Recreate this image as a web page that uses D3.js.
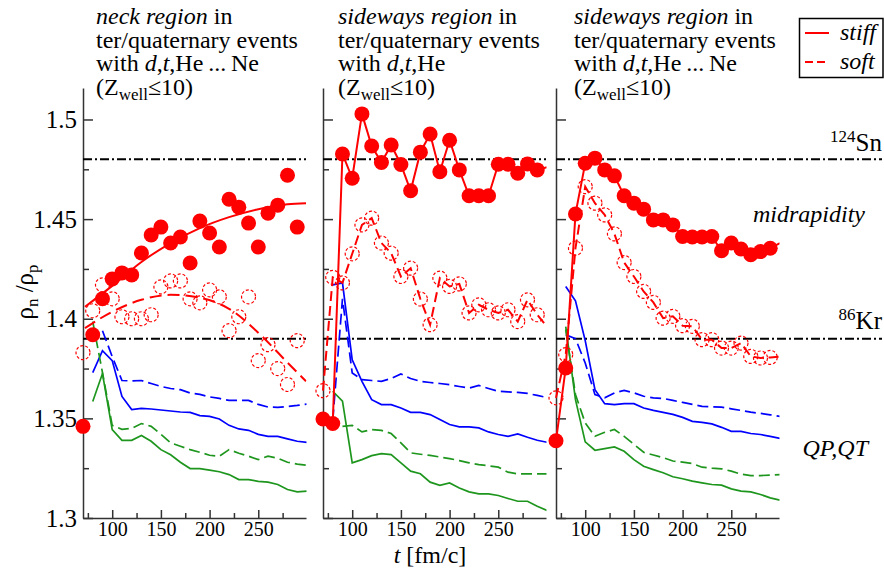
<!DOCTYPE html>
<html>
<head>
<meta charset="utf-8">
<title>rho_n / rho_p</title>
<script src="https://cdn.jsdelivr.net/npm/d3@7/dist/d3.min.js"></script>
<style>
  body { margin: 0; background: #fff; }
</style>
</head>
<body>
<svg id="chart" width="884" height="571"></svg>
<script>
// time grid of the red marker series [fm/c]; the last value only ends the line
var times = [70, 80, 90, 100, 110, 120, 130, 140, 150, 160, 170, 180,
             190, 200, 210, 220, 230, 240, 250, 260, 270, 280, 290, 300];

// neck region, d,t,He...Ne
var stiffNeck = [1.346, 1.392, 1.410, 1.420, 1.423, 1.422, 1.433, 1.442, 1.446, 1.438, 1.441, 1.428,
                 1.449, 1.443, 1.436, 1.460, 1.456, 1.448, 1.436, 1.453, 1.457, 1.472, 1.446, null];
var softNeck  = [1.383, 1.404, 1.417, 1.410, 1.401, 1.400, 1.400, 1.402, 1.416, 1.419, 1.419, 1.410,
                 1.408, 1.4145, 1.411, 1.394, 1.401, 1.411, 1.379, 1.387, 1.375, 1.367, 1.389, null];
// fits through the neck points
var fitTimes = [72, 100, 130, 160, 190, 220, 250, 280, 299];
var stiffFit = [1.406, 1.4165, 1.4285, 1.438, 1.4455, 1.451, 1.455, 1.4575, 1.458];
var softFit  = [1.3953, 1.4035, 1.4095, 1.412, 1.4105, 1.405, 1.393, 1.378, 1.3686];

// sideways region, d,t,He
var stiffSide = [1.3497, 1.3474, 1.4827, 1.4705, 1.5028, 1.4867, 1.4784, 1.4872, 1.4774, 1.4642, 1.4836, 1.4927,
                 1.4738, 1.4896, 1.4747, 1.4617, 1.4617, 1.4617, 1.4775, 1.4775, 1.473, 1.4777, 1.4747, 1.476];
var softSide  = [1.3639, 1.4208, 1.418, 1.4326, 1.4471, 1.4505, 1.438, 1.4329, 1.4212, 1.4254, 1.4099, 1.397,
                 1.4204, 1.4162, 1.4175, 1.4029, 1.407, 1.4045, 1.4029, 1.4045, 1.3986, 1.4095, 1.402, 1.396];

// sideways region, d,t,He...Ne
var stiffSide2 = [1.3388, 1.3753, 1.4526, 1.478, 1.4806, 1.4747, 1.4717, 1.4617, 1.458, 1.455, 1.4496, 1.4496,
                  1.4471, 1.4413, 1.441, 1.441, 1.4413, 1.4341, 1.438, 1.435, 1.4321, 1.4337, 1.4354, 1.438];
var softSide2  = [1.3603, 1.382, 1.4354, 1.4663, 1.458, 1.4521, 1.4426, 1.4282, 1.4212, 1.4137, 1.4082, 1.4003,
                  1.4012, 1.3965, 1.3962, 1.3895, 1.3895, 1.3853, 1.3853, 1.3878, 1.3811, 1.3803, 1.3806, 1.381];

// QP,QT curves (blue / green), time grid 80..300
var qTimes = [80, 90, 100, 110, 120, 130, 140, 150, 160, 170, 180, 190,
              200, 210, 220, 230, 240, 250, 260, 270, 280, 290, 300];
var blueNeck      = [1.373, 1.384, 1.379, 1.361, 1.3544, 1.355, 1.3547, 1.3542, 1.3537, 1.3532, 1.353, 1.3514,
                     1.351, 1.3497, 1.3465, 1.3447, 1.344, 1.342, 1.341, 1.341, 1.3397, 1.3385, 1.338];
var blueDashNeck  = [null, 1.394, 1.381, 1.369, 1.3688, 1.369, 1.3675, 1.366, 1.365, 1.3644, 1.3627, 1.362,
                     1.3608, 1.360, 1.359, 1.359, 1.359, 1.357, 1.3557, 1.3555, 1.356, 1.3565, 1.3572];
var greenNeck     = [1.3585, 1.3725, 1.3444, 1.339, 1.339, 1.3414, 1.3385, 1.3343, 1.3317, 1.328, 1.3248, 1.3248,
                     1.324, 1.3232, 1.3218, 1.3193, 1.3193, 1.3184, 1.318, 1.3168, 1.3143, 1.3131, 1.3135];
var greenDashNeck = [1.3986, 1.373, 1.3465, 1.3445, 1.345, 1.3474, 1.346, 1.342, 1.3377, 1.336, 1.3343, 1.333,
                     1.3315, 1.331, 1.3343, 1.3325, 1.331, 1.3293, 1.331, 1.330, 1.328, 1.327, 1.3265];

var blueSide      = [1.417, 1.418, 1.3794, 1.3686, 1.3594, 1.3569, 1.3569, 1.3552, 1.353, 1.353, 1.3519, 1.3494,
                     1.3469, 1.3457, 1.3457, 1.3452, 1.3432, 1.3419, 1.341, 1.3422, 1.3405, 1.339, 1.338];
var blueDashSide  = [1.349, 1.410, 1.3728, 1.3694, 1.369, 1.3686, 1.370, 1.3723, 1.370, 1.3686, 1.368, 1.3675,
                     1.3669, 1.366, 1.3652, 1.3665, 1.365, 1.3636, 1.3633, 1.363, 1.3625, 1.3615, 1.3605];
var greenSide     = [1.3636, 1.3586, 1.3277, 1.3293, 1.3313, 1.3323, 1.3318, 1.3277, 1.3235, 1.3222, 1.318, 1.3164,
                     1.3176, 1.3151, 1.3131, 1.3121, 1.3121, 1.3113, 1.3098, 1.3084, 1.3084, 1.3059, 1.3038];
var greenDashSide = [null, 1.346, 1.3465, 1.3432, 1.3444, 1.344, 1.3424, 1.3377, 1.3327, 1.332, 1.3314, 1.3306,
                     1.3298, 1.3288, 1.3277, 1.3268, 1.3262, 1.3255, 1.323, 1.3221, 1.3221, 1.3221, 1.3221];

var blueSide2      = [1.4162, 1.409, 1.389, 1.3644, 1.3574, 1.3569, 1.3574, 1.3574, 1.3552, 1.354, 1.353, 1.352,
                      1.3505, 1.3485, 1.348, 1.3472, 1.3455, 1.3435, 1.3435, 1.3424, 1.3419, 1.341, 1.340];
var blueDashSide2  = [1.392, 1.390, 1.3778, 1.3619, 1.3603, 1.3628, 1.364, 1.3628, 1.3611, 1.3603, 1.360, 1.359,
                      1.358, 1.357, 1.356, 1.3558, 1.3556, 1.3548, 1.354, 1.3531, 1.3525, 1.3518, 1.351];
var greenSide2     = [1.3961, 1.3594, 1.3382, 1.334, 1.3348, 1.3357, 1.3335, 1.3293, 1.326, 1.3243, 1.3227, 1.3207,
                      1.3197, 1.3185, 1.3176, 1.3168, 1.3165, 1.3146, 1.3135, 1.3131, 1.3118, 1.3101, 1.309];
var greenDashSide2 = [1.3945, 1.362, 1.3477, 1.341, 1.343, 1.3444, 1.341, 1.337, 1.333, 1.3316, 1.3303, 1.3286,
                      1.328, 1.3273, 1.3255, 1.325, 1.3247, 1.3235, 1.322, 1.3213, 1.3213, 1.3215, 1.3218];

// reference ratios of the projectile/target
var refValues = [1.48, 1.39];
var refNames = [["124", "Sn"], ["86", "Kr"]];

var yTicks = [1.3, 1.35, 1.4, 1.45, 1.5];
var yMinor = [1.325, 1.375, 1.425, 1.475];
var xTicks = [100, 150, 200, 250];
var xMinor = [75, 125, 175, 225, 275];

var RED = "#ff0000", BLUE = "#0000ff", GREEN = "#1e961e";
var FONT = "'Liberation Serif', 'Times New Roman', Times, 'DejaVu Serif', serif";

var svg = d3.select("#chart").attr("font-family", FONT);
var y = d3.scaleLinear().domain([1.3, 1.5158]).range([518, 88]);

var panels = [
  {x0: 83, x1: 306, stiff: stiffNeck, soft: softNeck, connect: false, refEnd: 306, tx: 96,
   q: [blueNeck, blueDashNeck, greenNeck, greenDashNeck],
   region: "neck region", with: ",He\u2009...\u2009Ne"},
  {x0: 323, x1: 546, stiff: stiffSide, soft: softSide, connect: true, refEnd: 546, tx: 338,
   q: [blueSide, blueDashSide, greenSide, greenDashSide],
   region: "sideways region", with: ",He"},
  {x0: 556, x1: 779, stiff: stiffSide2, soft: softSide2, connect: true, refEnd: 882, tx: 574,
   q: [blueSide2, blueDashSide2, greenSide2, greenDashSide2],
   region: "sideways region", with: ",He\u2009...\u2009Ne"}
];
var qStyles = [
  {c: BLUE, dash: null}, {c: BLUE, dash: "11,5"},
  {c: GREEN, dash: null}, {c: GREEN, dash: "11,5"}
];

// text with italic / sub / superscript parts
function rich(sel, parts) {
  var shift = 0;
  sel.attr("font-family", FONT);
  parts.forEach(function(p) {
    var s = p.sub ? 5 : (p.sup ? -9 : 0);
    var ts = sel.append("tspan").attr("dy", s - shift).text(p.t);
    shift = s;
    if (p.i) ts.attr("font-style", "italic");
    if (p.sub || p.sup) ts.attr("font-size", p.size || 16);
  });
  return sel;
}

function styleAxis(g) {
  g.attr("font-family", FONT);
  g.selectAll("path, line").attr("stroke", "#333").attr("stroke-width", 1.5);
  g.selectAll("text").attr("fill", "#000");
}

panels.forEach(function(p, i) {
  var x = d3.scaleLinear().domain([70, 299]).range([p.x0, p.x1]);
  var g = svg.append("g");

  g.append("clipPath").attr("id", "clip" + i)
    .append("rect").attr("x", p.x0 - 20).attr("y", 60)
    .attr("width", p.x1 - p.x0 + 20.5).attr("height", 470);

  // axes, ticks pointing inwards
  var yAx = g.append("g").attr("transform", "translate(" + p.x0 + ",0)")
    .call(d3.axisLeft(y).tickValues(yTicks).tickSizeInner(-10).tickSizeOuter(0).tickPadding(6)
      .tickFormat(i === 0 ? function(d) { return String(+d.toFixed(2)); } : function() { return ""; }));
  yAx.selectAll("text").attr("font-size", 25);
  styleAxis(yAx);
  var yAx2 = g.append("g").attr("transform", "translate(" + p.x0 + ",0)")
    .call(d3.axisLeft(y).tickValues(yMinor).tickSize(-6).tickFormat(""));
  yAx2.select(".domain").remove();
  styleAxis(yAx2);

  var xAx = g.append("g").attr("transform", "translate(0," + y.range()[0] + ")")
    .call(d3.axisBottom(x).tickValues(xTicks).tickSizeInner(-8).tickSizeOuter(0).tickPadding(4));
  xAx.selectAll("text").attr("font-size", 20);
  styleAxis(xAx);
  var xAx2 = g.append("g").attr("transform", "translate(0," + y.range()[0] + ")")
    .call(d3.axisBottom(x).tickValues(xMinor).tickSize(-5).tickFormat(""));
  xAx2.select(".domain").remove();
  styleAxis(xAx2);

  // reference lines
  refValues.forEach(function(v) {
    g.append("line")
      .attr("x1", p.x0).attr("x2", p.refEnd)
      .attr("y1", y(v)).attr("y2", y(v))
      .attr("stroke", "#000").attr("stroke-width", 2)
      .attr("stroke-dasharray", "9,3,2,3");
  });

  var data = g.append("g").attr("clip-path", "url(#clip" + i + ")");

  // QP,QT lines
  p.q.forEach(function(vals, k) {
    var line = d3.line()
      .defined(function(d, j) { return vals[j] != null; })
      .x(function(d) { return x(d); })
      .y(function(d, j) { return y(vals[j]); });
    data.append("path").attr("d", line(qTimes))
      .attr("fill", "none").attr("stroke", qStyles[k].c).attr("stroke-width", 1.7)
      .attr("stroke-dasharray", qStyles[k].dash);
  });

  // red series
  function series(vals) {
    return d3.line()
      .defined(function(d, j) { return vals[j] != null; })
      .x(function(d) { return x(d); })
      .y(function(d, j) { return y(vals[j]); })(times);
  }
  var pts = times.filter(function(t) { return t <= 290; });

  if (p.connect) {
    data.append("path").attr("d", series(p.soft))
      .attr("fill", "none").attr("stroke", RED).attr("stroke-width", 2)
      .attr("stroke-dasharray", "10,5");
  } else {
    var fit = function(vals) {
      return d3.line().curve(d3.curveMonotoneX)
        .x(function(d) { return x(d); })
        .y(function(d, j) { return y(vals[j]); })(fitTimes);
    };
    data.append("path").attr("d", fit(softFit))
      .attr("fill", "none").attr("stroke", RED).attr("stroke-width", 2)
      .attr("stroke-dasharray", "12,6");
    data.append("path").attr("d", fit(stiffFit))
      .attr("fill", "none").attr("stroke", RED).attr("stroke-width", 2);
  }

  g.append("g").selectAll("circle").data(pts).join("circle")
    .attr("cx", function(d) { return x(d); })
    .attr("cy", function(d, j) { return y(p.soft[j]); })
    .attr("r", 7)
    .attr("fill", "none").attr("stroke", RED).attr("stroke-width", 1.2)
    .attr("stroke-dasharray", "3,2");

  if (p.connect) {
    data.append("path").attr("d", series(p.stiff))
      .attr("fill", "none").attr("stroke", RED).attr("stroke-width", 2);
  }
  g.append("g").selectAll("circle").data(pts).join("circle")
    .attr("cx", function(d) { return x(d); })
    .attr("cy", function(d, j) { return y(p.stiff[j]); })
    .attr("r", 7.5)
    .attr("fill", RED);

  // panel title
  var lines = [
    [{t: p.region, i: true}, {t: " in"}],
    [{t: "ter/quaternary events"}],
    [{t: "with "}, {t: "d", i: true}, {t: ","}, {t: "t", i: true}, {t: p.with}],
    [{t: "(Z"}, {t: "well", sub: true, size: 17}, {t: "\u226410)"}]
  ];
  lines.forEach(function(parts, k) {
    rich(svg.append("text").attr("x", p.tx).attr("y", 24 + k * 23.5).attr("font-size", 24), parts);
  });
});

// labels on the right
refValues.forEach(function(v, k) {
  rich(svg.append("text").attr("x", 882).attr("y", y(v) - (k === 0 ? 8 : 10))
    .attr("text-anchor", "end").attr("font-size", 25),
    [{t: refNames[k][0], sup: true, size: 17}, {t: refNames[k][1]}]);
});
rich(svg.append("text").attr("x", 865).attr("y", 222).attr("text-anchor", "end")
  .attr("font-size", 24), [{t: "midrapidity", i: true}]);
rich(svg.append("text").attr("x", 868).attr("y", 456).attr("text-anchor", "end")
  .attr("font-size", 24), [{t: "QP,QT", i: true}]);

// legend
var leg = svg.append("g");
leg.append("rect").attr("x", 799.5).attr("y", 18.5).attr("width", 83.5).attr("height", 59)
  .attr("fill", "#fff").attr("stroke", "#000").attr("stroke-width", 1.5);
[["stiff", null, 33], ["soft", "8,4", 62]].forEach(function(e) {
  leg.append("line").attr("x1", 805).attr("x2", 829).attr("y1", e[2]).attr("y2", e[2])
    .attr("stroke", RED).attr("stroke-width", 2).attr("stroke-dasharray", e[1]);
  rich(leg.append("text").attr("x", 840).attr("y", e[2] + 7).attr("font-size", 24),
    [{t: e[0], i: true}]);
});

// axis titles
rich(svg.append("text").attr("transform", "translate(33,292) rotate(-90)")
  .attr("text-anchor", "middle").attr("font-size", 25),
  [{t: "\u03c1"}, {t: "n", sub: true, size: 17}, {t: " /\u03c1"}, {t: "p", sub: true, size: 17}]);
rich(svg.append("text").attr("x", 430).attr("y", 563).attr("text-anchor", "middle").attr("font-size", 24),
  [{t: "t", i: true}, {t: " [fm/c]"}]);
</script>
</body>
</html>
